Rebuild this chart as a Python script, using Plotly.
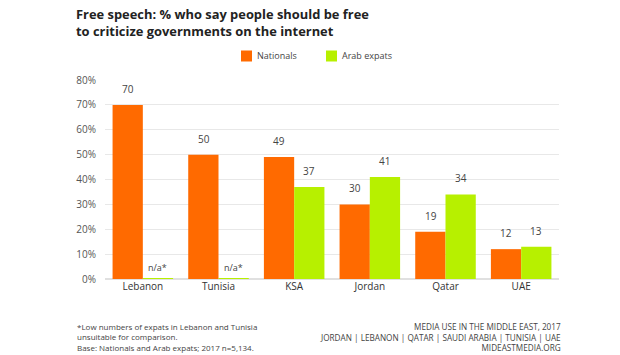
import plotly.graph_objects as go

categories = ["Lebanon", "Tunisia", "KSA", "Jordan", "Qatar", "UAE"]
nationals = [70, 50, 49, 30, 19, 12]
expats = [0.3, 0.3, 37, 41, 34, 13]
expat_labels = ["n/a*", "n/a*", "37", "41", "34", "13"]
nat_labels = [str(v) for v in nationals]
y_ticks = [0, 10, 20, 30, 40, 50, 60, 70, 80]
y_tick_text = [f"{v}%" for v in y_ticks]
series_names = ["Nationals", "Arab expats"]

title_lines = ["Free speech: % who say people should be free",
               "to criticize governments on the internet"]
foot_left = ["*Low numbers of expats in Lebanon and Tunisia",
             "unsuitable for comparison.",
             "Base: Nationals and Arab expats; 2017 n=5,134."]
foot_right = ["MEDIA USE IN THE MIDDLE EAST, 2017",
              "JORDAN | LEBANON | QATAR | SAUDI ARABIA | TUNISIA | UAE",
              "MIDEASTMEDIA.ORG"]

ORANGE = "#FF6A00"
GREEN = "#B7F000"
COLORS = [ORANGE, GREEN]
FONT = "Open Sans, Lato, sans-serif"

L, R, T, B = 105, 559, 80, 279
def xp(px):
    return (px - L) / (R - L)
def yp(py):
    return (B - py) / (B - T)

fig = go.Figure()
fig.add_trace(go.Bar(x=categories, y=nationals, name=series_names[0],
                     marker=dict(color=ORANGE, line=dict(width=0))))
fig.add_trace(go.Bar(x=categories, y=expats, name=series_names[1],
                     marker=dict(color=GREEN, line=dict(width=0))))

annotations = []
for c, v, t in zip(categories, nationals, nat_labels):
    annotations.append(dict(x=c, y=v, text=t, xref="x", yref="y", showarrow=False,
                            xshift=-15, yshift=16, font=dict(size=10, color="#444", family=FONT)))
for c, v, t in zip(categories, expats, expat_labels):
    na = t.startswith("n/a")
    annotations.append(dict(x=c, y=v, text=t, xref="x", yref="y", showarrow=False,
                            xshift=15, yshift=11 if na else 16,
                            font=dict(size=9 if na else 10, color="#444", family=FONT)))

annotations.append(dict(text="<b>" + "<br>".join(title_lines) + "</b>", xref="paper", yref="paper",
                        x=xp(74), y=yp(3), xanchor="left", yanchor="top", align="left",
                        showarrow=False, font=dict(size=12.9, color="#222", family=FONT)))
annotations.append(dict(text="<br>".join(foot_left), xref="paper", yref="paper",
                        x=xp(75), y=yp(319), xanchor="left", yanchor="top", align="left",
                        showarrow=False, font=dict(size=8, color="#444", family=FONT)))
annotations.append(dict(text="<br>".join(foot_right), xref="paper", yref="paper",
                        x=xp(563), y=yp(319), xanchor="right", yanchor="top", align="right",
                        showarrow=False, font=dict(size=8.2, color="#444", family=FONT)))

# Legend (drawn manually to match spacing)
shapes = []
legend_x = [241, 326]
for name, col, lx in zip(series_names, COLORS, legend_x):
    shapes.append(dict(type="rect", xref="paper", yref="paper",
                       x0=xp(lx), x1=xp(lx + 11), y0=yp(61.5), y1=yp(50.5),
                       fillcolor=col, line=dict(width=0)))
    annotations.append(dict(text=name, xref="paper", yref="paper", x=xp(lx + 14), y=yp(56),
                            xanchor="left", yanchor="middle", showarrow=False,
                            font=dict(size=9, color="#444", family=FONT)))

fig.update_layout(
    width=620, height=355,
    margin=dict(l=L, r=620 - R, t=T, b=355 - B, autoexpand=False),
    paper_bgcolor="white", plot_bgcolor="white",
    barmode="group", bargap=0.2, bargroupgap=0,
    font=dict(family=FONT, color="#444"),
    showlegend=False,
    annotations=annotations,
    shapes=shapes,
)
fig.update_xaxes(showgrid=False, showline=False, ticks="", tickfont=dict(size=10, color="#333", family=FONT))
fig.update_yaxes(range=[0, 80], tickvals=y_ticks, ticktext=y_tick_text, showgrid=True,
                 gridcolor="#e8e8e8", gridwidth=1, zeroline=True, zerolinecolor="#e0e0e0",
                 showline=False, ticks="", ticklabelstandoff=8,
                 tickfont=dict(size=10, color="#555", family=FONT))

fig.write_html("out.html", config={"displayModeBar": False},
               post_script="document.body.style.margin='0';")
